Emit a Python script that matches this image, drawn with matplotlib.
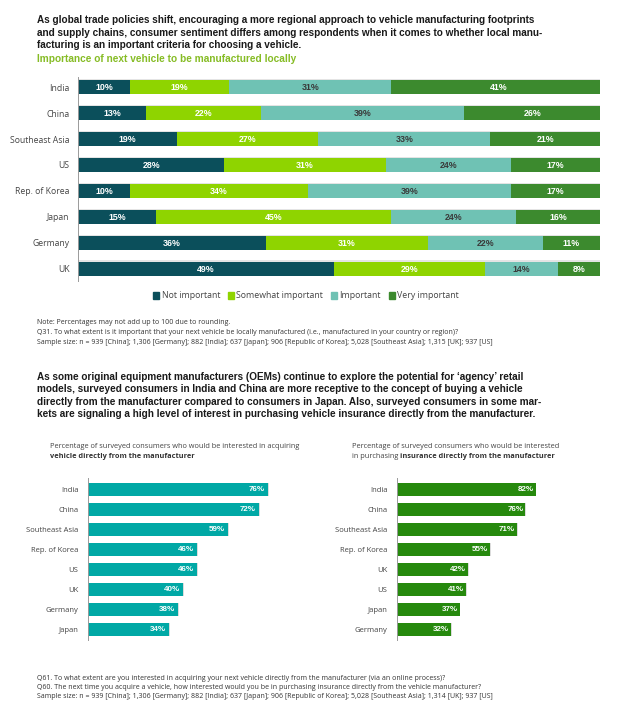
import matplotlib
matplotlib.use("Agg")
import matplotlib.pyplot as plt
from matplotlib.patches import Patch
import numpy as np

W, H = 635, 712
HEAD = ["Liberation Sans", "DejaVu Sans"]
plt.rcParams['font.family'] = ["Open Sans", "DejaVu Sans"]

# top chart data
countries = ["India", "China", "Southeast Asia", "US", "Rep. of Korea", "Japan", "Germany", "UK"]
not_important = [10, 13, 19, 28, 10, 15, 36, 49]
somewhat_important = [19, 22, 27, 31, 34, 45, 31, 29]
important = [31, 39, 33, 24, 39, 24, 22, 14]
very_important = [41, 26, 21, 17, 17, 16, 11, 8]
levels = ["Not important", "Somewhat important", "Important", "Very important"]
level_colors = ["#0b4f5b", "#8fd400", "#6fc2b4", "#3c8a2e"]
level_text = ["white", "white", "#3a3a3a", "white"]

# bottom charts data
buy_countries = ["India", "China", "Southeast Asia", "Rep. of Korea", "US", "UK", "Germany", "Japan"]
buy_direct = [76, 72, 59, 46, 46, 40, 38, 34]
ins_countries = ["India", "China", "Southeast Asia", "Rep. of Korea", "UK", "US", "Japan", "Germany"]
ins_direct = [82, 76, 71, 55, 42, 41, 37, 32]

fig = plt.figure(figsize=(W / 100, H / 100), dpi=100)
fig.patch.set_facecolor("white")
renderer = fig.canvas.get_renderer()


def px_axes(x0, y0, x1, y1):
    return fig.add_axes([x0 / W, 1 - y1 / H, (x1 - x0) / W, (y1 - y0) / H])


def px_text(x, y, s, **kw):
    return fig.text(x / W, 1 - y / H, s, **kw)


def fit_block(lines, x, y0, step, width, longest, **kw):
    # pick a font size so the longest line spans about `width` pixels
    probe = px_text(x, y0, lines[longest], fontsize=10, **kw)
    w = probe.get_window_extent(renderer=renderer).width
    probe.remove()
    size = 10 * width / w
    for i, line in enumerate(lines):
        px_text(x, y0 + i * step, line, fontsize=size, va="center", **kw)


# heading
head = ["As global trade policies shift, encouraging a more regional approach to vehicle manufacturing footprints",
        "and supply chains, consumer sentiment differs among respondents when it comes to whether local manu-",
        "facturing is an important criteria for choosing a vehicle."]
fit_block(head, 37, 20, 12.5, 498, 0, fontweight="bold", color="#1a1a1a", family=HEAD)
fit_block(["Importance of next vehicle to be manufactured locally"], 37, 59, 0, 258, 0,
          fontweight="bold", color="#86bc25", family=HEAD)

# stacked bars
ax = px_axes(78, 77, 600, 281)
series = [not_important, somewhat_important, important, very_important]
ypos = np.arange(len(countries))
# faint grey edge along the top of each bar
ax.barh(ypos - 0.04, 100, height=0.56, color="#e4e4e4", edgecolor="none")
left = np.zeros(len(countries))
for vals, lab, col, tcol in zip(series, levels, level_colors, level_text):
    vals = np.array(vals, dtype=float)
    ax.barh(ypos, vals, left=left, height=0.56, color=col, label=lab, edgecolor="none")
    for y, l, v in zip(ypos, left, vals):
        ax.text(l + v / 2, y + 0.02, f"{int(v)}%", ha="center", va="center", fontsize=6.4,
                fontweight="bold", color=tcol, family=HEAD)
    left += vals
ax.set_xlim(0, 100)
ax.set_ylim(7.47, -0.39)
ax.set_yticks(ypos)
ax.set_yticklabels(countries, fontsize=6.2, color="#444444")
ax.tick_params(axis="y", length=0, pad=6)
ax.set_xticks([])
for s in ["top", "right", "bottom"]:
    ax.spines[s].set_visible(False)
ax.spines["left"].set_color("#9a9a9a")
ax.spines["left"].set_linewidth(0.7)

handles = [Patch(color=c, label=l) for c, l in zip(level_colors, levels)]
fig.legend(handles=handles, loc="center", bbox_to_anchor=(306 / W, 1 - 296 / H), ncol=4,
           frameon=False, fontsize=6.3, handlelength=0.7, handleheight=0.7,
           handletextpad=0.25, columnspacing=0.9, labelcolor="#444444")

notes = ["Note: Percentages may not add up to 100 due to rounding.",
         "Q31. To what extent is it important that your next vehicle be locally manufactured (i.e., manufactured in your country or region)?",
         "Sample size: n = 939 [China]; 1,306 [Germany]; 882 [India]; 637 [Japan]; 906 [Republic of Korea]; 5,028 [Southeast Asia]; 1,315 [UK]; 937 [US]"]
for i, line in enumerate(notes):
    px_text(37, 323 + i * 9.5, line, fontsize=5.0, color="#333333", va="center")

para = ["As some original equipment manufacturers (OEMs) continue to explore the potential for \u2018agency\u2019 retail",
        "models, surveyed consumers in India and China are more receptive to the concept of buying a vehicle",
        "directly from the manufacturer compared to consumers in Japan. Also, surveyed consumers in some mar-",
        "kets are signaling a high level of interest in purchasing vehicle insurance directly from the manufacturer."]
fit_block(para, 37, 377, 12.3, 500, 3, fontweight="bold", color="#1a1a1a", family=HEAD)

# bottom subtitles
px_text(50, 447, "Percentage of surveyed consumers who would be interested in acquiring",
        fontsize=5.3, color="#444444", va="center")
px_text(50, 457, "vehicle directly from the manufacturer", fontsize=5.3, fontweight="bold",
        color="#333333", va="center")
px_text(352, 447, "Percentage of surveyed consumers who would be interested",
        fontsize=5.3, color="#444444", va="center")
t = px_text(352, 457, "in purchasing ", fontsize=5.3, color="#444444", va="center")
bb = t.get_window_extent(renderer=renderer)
fig.text(bb.x1 / W, 1 - 457 / H, "insurance directly from the manufacturer", fontsize=5.3,
         fontweight="bold", color="#333333", va="center")


def simple_bars(axb, cats, vals, color):
    y = np.arange(len(cats))
    # light shadow on the right and bottom edge
    axb.barh(y + 0.04, np.array(vals) + 0.5, height=0.65, color="#dcdcdc", edgecolor="none")
    axb.barh(y, vals, height=0.65, color=color, edgecolor="none")
    for yy, v in zip(y, vals):
        axb.text(v - 1.2, yy + 0.03, f"{v}%", ha="right", va="center", fontsize=5.8,
                 fontweight="bold", color="white", family=HEAD)
    axb.set_ylim(7.55, -0.55)
    axb.set_yticks(y)
    axb.set_yticklabels(cats, fontsize=5.5, color="#444444")
    axb.tick_params(axis="y", length=0, pad=7)
    axb.set_xticks([])
    for s in ["top", "right", "bottom"]:
        axb.spines[s].set_visible(False)
    axb.spines["left"].set_color("#9a9a9a")
    axb.spines["left"].set_linewidth(0.7)


ax2 = px_axes(88, 478, 300, 640)
simple_bars(ax2, buy_countries, buy_direct, "#00a8a5")
ax2.set_xlim(0, 212 / 2.37)

ax3 = px_axes(397, 478, 600, 640)
simple_bars(ax3, ins_countries, ins_direct, "#26890d")
ax3.set_xlim(0, 203 / 1.69)

foot = ["Q61. To what extent are you interested in acquiring your next vehicle directly from the manufacturer (via an online process)?",
        "Q60. The next time you acquire a vehicle, how interested would you be in purchasing insurance directly from the vehicle manufacturer?",
        "Sample size: n = 939 [China]; 1,306 [Germany]; 882 [India]; 637 [Japan]; 906 [Republic of Korea]; 5,028 [Southeast Asia]; 1,314 [UK]; 937 [US]"]
for i, line in enumerate(foot):
    px_text(37, 678 + i * 9.5, line, fontsize=5.0, color="#333333", va="center")

fig.savefig("out.png", dpi=100, facecolor="white")
